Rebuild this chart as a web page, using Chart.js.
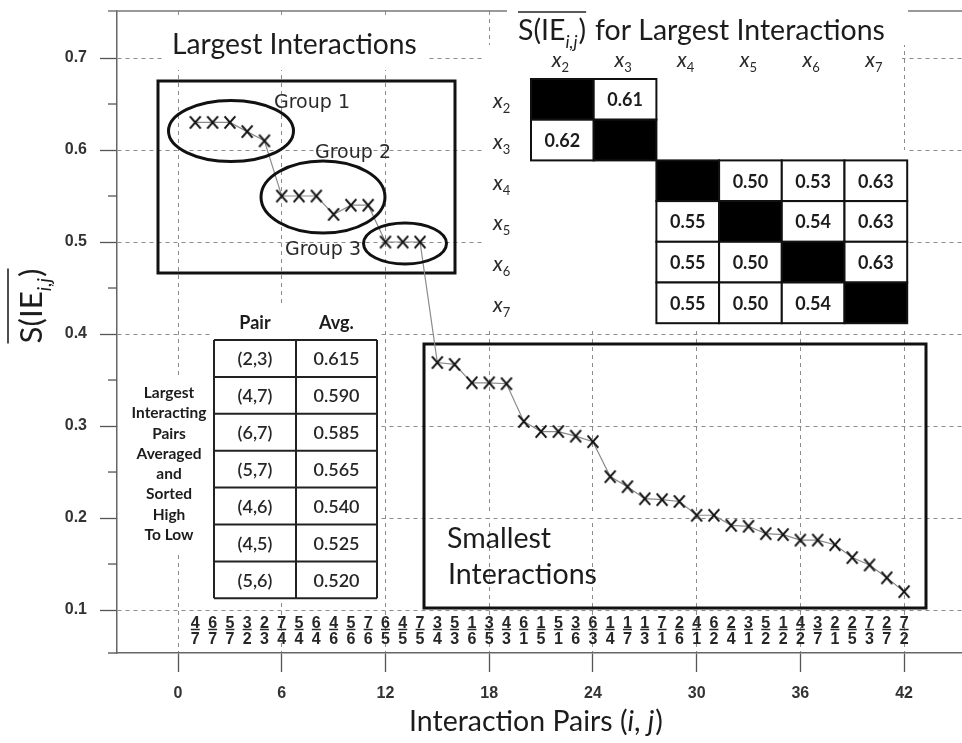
<!DOCTYPE html>
<html>
<head>
<meta charset="utf-8">
<script src="https://cdn.jsdelivr.net/npm/chart.js@4/dist/chart.umd.min.js"></script>
<style>
  html, body { margin: 0; padding: 0; background: #fff; }
  canvas { display: block; }
</style>
</head>
<body>
<canvas id="chart" width="962" height="743"></canvas>
<script>
// ---- data ----------------------------------------------------------------
// interaction pair (i over j) for each position on the x axis
const pairI = [4,6,5,3,2,7,5,6,4,5,7,6,4,7,3,5,1,3,4,6,1,5,3,6,1,1,1,7,2,4,6,2,3,5,1,4,3,2,2,7,2,7];
const pairJ = [7,7,7,2,3,4,4,4,6,6,6,5,5,5,4,3,6,5,3,1,5,1,6,3,4,7,3,1,6,1,2,4,1,2,2,2,7,1,5,3,7,2];

// mean sensitivity of each interaction, sorted high to low
const interactionValues = [
  0.63, 0.63, 0.63, 0.62, 0.61, 0.55, 0.55, 0.55, 0.53, 0.54, 0.54, 0.50, 0.50, 0.50,
  0.369, 0.367, 0.347, 0.347, 0.346, 0.305, 0.294, 0.294, 0.289, 0.283, 0.245, 0.234,
  0.221, 0.220, 0.218, 0.203, 0.203, 0.192, 0.191, 0.183, 0.182, 0.176, 0.176, 0.171,
  0.157, 0.149, 0.135, 0.120
];

const xTickValues = [0, 6, 12, 18, 24, 30, 36, 42];
const yTickValues = [0.1, 0.2, 0.3, 0.4, 0.5, 0.6, 0.7];
const yMinorTicks = [0.15, 0.25, 0.35, 0.45, 0.55, 0.65];

// S(IE_ij) for the largest interactions ('D' marks the diagonal)
const matrixVars = ['2', '3', '4', '5', '6', '7'];
const matrixCells = [
  ['D',  0.61, null, null, null, null],
  [0.62, 'D',  null, null, null, null],
  [null, null, 'D',  0.50, 0.53, 0.63],
  [null, null, 0.55, 'D',  0.54, 0.63],
  [null, null, 0.55, 0.50, 'D',  0.63],
  [null, null, 0.55, 0.50, 0.54, 'D']
];

// largest interacting pairs, averaged and sorted
const tablePairs = ['(2,3)', '(4,7)', '(6,7)', '(5,7)', '(4,6)', '(4,5)', '(5,6)'];
const tableAverages = ['0.615', '0.590', '0.585', '0.565', '0.540', '0.525', '0.520'];
const tableNote = ['Largest', 'Interacting', 'Pairs', 'Averaged', 'and', 'Sorted', 'High', 'To Low'];

// ---- drawing helpers -----------------------------------------------------
const CAL = 'Lato, "Open Sans", sans-serif';
const ARIAL = '"Liberation Sans", Arial, sans-serif';
const DEJAVU = '"DejaVu Sans", Verdana, sans-serif';
const INK = '#1c1c1c';

function fitSize(ctx, text, family, weight, style, width) {
  ctx.font = `${style} ${weight} 20px ${family}`;
  return 20 * width / ctx.measureText(text).width;
}

function line(ctx, x1, y1, x2, y2, color, w, dash) {
  ctx.save();
  ctx.strokeStyle = color; ctx.lineWidth = w;
  ctx.setLineDash(dash || []);
  ctx.beginPath(); ctx.moveTo(x1, y1); ctx.lineTo(x2, y2); ctx.stroke();
  ctx.restore();
}

// draws text runs one after another on a common baseline
function drawRuns(ctx, runs, x, y, align) {
  let total = 0;
  runs.forEach(r => { ctx.font = r.font; r.w = ctx.measureText(r.text).width; total += r.w + (r.gap || 0); });
  let cx = align === 'center' ? x - total / 2 : (align === 'right' ? x - total : x);
  const x0 = cx;
  ctx.textAlign = 'left';
  ctx.textBaseline = 'alphabetic';
  runs.forEach(r => {
    ctx.font = r.font;
    ctx.fillText(r.text, cx, y + (r.dy || 0));
    cx += r.w + (r.gap || 0);
  });
  return { x0, x1: cx };
}

// S(IE_ij) with an overline
function sieRuns(size) {
  return [
    { text: 'S(IE', font: `normal 400 ${size}px ${CAL}` },
    { text: 'i,j', font: `italic 400 ${size * 0.62}px ${CAL}`, dy: size * 0.28, gap: 1 },
    { text: ')', font: `normal 400 ${size}px ${CAL}` }
  ];
}

function varLabel(ctx, idx, x, y, align) {
  return drawRuns(ctx, [
    { text: 'x', font: `italic 400 21px ${CAL}` },
    { text: idx, font: `normal 400 13px ${CAL}`, dy: 5 }
  ], x, y, align);
}

// marker: a thin "X"
const xMark = document.createElement('canvas');
xMark.width = 14; xMark.height = 15;
(() => {
  const m = xMark.getContext('2d');
  m.strokeStyle = '#111'; m.lineWidth = 2;
  m.beginPath();
  m.moveTo(1.6, 1.4); m.lineTo(12.4, 13.6);
  m.moveTo(12.4, 1.4); m.lineTo(1.6, 13.6);
  m.stroke();
})();

const overlay = {
  id: 'overlay',
  beforeDatasetsDraw(chart) {
    const { ctx, chartArea: A, scales: { x, y } } = chart;
    ctx.save();

    // frame extensions and minor y ticks
    line(ctx, 108, A.top, A.right, A.top, '#777', 1.5);
    line(ctx, 108, A.bottom, A.left, A.bottom, '#666', 1.5);
    yMinorTicks.forEach(v => {
      const py = y.getPixelForValue(v);
      line(ctx, 108, py, A.left, py, '#555', 1.3);
    });

    // plain backgrounds behind labels
    ctx.fillStyle = '#fff';
    ctx.fillRect(162, 19, 266, 51);     // "Largest Interactions" caption
    ctx.fillRect(507, 0, 401, 45);      // matrix title
    ctx.fillRect(482, 45, 420, 106);    // matrix
    ctx.fillRect(482, 150, 426, 177);
    ctx.fillRect(118, 377, 94, 176);    // table note
    ctx.fillRect(212, 305, 166, 36);    // table header
    ctx.fillRect(426, 512, 186, 6);

    // ---- largest interactions panel
    ctx.strokeStyle = '#111'; ctx.lineWidth = 3;
    ctx.strokeRect(158, 81, 297, 192);
    ctx.fillStyle = INK;
    let s = fitSize(ctx, 'Largest Interactions', CAL, 400, 'normal', 245);
    ctx.font = `normal 400 ${s}px ${CAL}`;
    ctx.textAlign = 'left'; ctx.textBaseline = 'alphabetic';
    ctx.fillText('Largest Interactions', 172, 54);

    const gs = fitSize(ctx, 'Group 1', DEJAVU, 400, 'normal', 76);
    ctx.font = `normal 400 ${gs}px ${DEJAVU}`;
    ctx.fillStyle = '#2a2a2a';
    ctx.textBaseline = 'middle';
    ctx.fillText('Group 1', 274, 103);
    ctx.fillText('Group 2', 315, 153);
    ctx.fillText('Group 3', 285, 250);

    // ---- smallest interactions panel
    ctx.strokeStyle = '#111'; ctx.lineWidth = 3;
    ctx.strokeRect(424, 344, 502, 264);
    s = fitSize(ctx, 'Interactions', CAL, 400, 'normal', 149);
    ctx.font = `normal 400 ${s}px ${CAL}`;
    ctx.fillStyle = INK; ctx.textBaseline = 'alphabetic';
    ctx.fillText('Smallest', 447, 548);
    ctx.fillText('Interactions', 448, 584);

    // ---- matrix
    const mL = 531, mT = 79, cw = 62.7, rh = 40.7;
    s = fitSize(ctx, 'for Largest Interactions', CAL, 400, 'normal', 290);
    ctx.fillStyle = INK;
    const t = drawRuns(ctx, sieRuns(s), 518, 40, 'left');
    line(ctx, t.x0, 12, t.x1, 12, '#222', 1.6);
    ctx.font = `normal 400 ${s}px ${CAL}`;
    ctx.fillText('for Largest Interactions', 595, 40);

    ctx.fillStyle = '#2a2a2a';
    matrixVars.forEach((v, i) => {
      varLabel(ctx, v, mL + (i + 0.5) * cw - 2, 67, 'center');
      varLabel(ctx, v, 493, mT + (i + 0.5) * rh + 9, 'left');
    });
    ctx.font = `normal 700 18px ${CAL}`;
    ctx.textAlign = 'center'; ctx.textBaseline = 'middle';
    matrixCells.forEach((row, r) => row.forEach((v, c) => {
      if (v === null) return;
      const x0 = mL + c * cw, y0 = mT + r * rh;
      ctx.fillStyle = v === 'D' ? '#000' : '#fff';
      ctx.fillRect(x0, y0, cw, rh);
      if (v !== 'D') {
        ctx.fillStyle = INK;
        ctx.fillText(v.toFixed(2), x0 + cw / 2, y0 + rh / 2 + 1);
      }
      ctx.strokeStyle = '#111'; ctx.lineWidth = 2;
      ctx.strokeRect(x0, y0, cw, rh);
    }));

    // ---- averaged pairs table
    const tL = 214, tM = 296, tR = 377, tT = 340, tr = 36.9;
    ctx.fillStyle = '#fff';
    ctx.fillRect(tL, tT, tR - tL, tr * tablePairs.length);
    ctx.fillStyle = INK;
    ctx.font = `normal 700 18px ${CAL}`;
    ctx.textAlign = 'center'; ctx.textBaseline = 'middle';
    ctx.fillText('Pair', (tL + tM) / 2, 323);
    ctx.fillText('Avg.', (tM + tR) / 2, 323);
    const vs = fitSize(ctx, '0.615', CAL, 600, 'normal', 46);
    ctx.font = `normal 600 ${vs}px ${CAL}`;
    ctx.fillStyle = '#262626';
    tablePairs.forEach((p, i) => {
      const cy = tT + (i + 0.5) * tr + 1;
      ctx.fillText(p, (tL + tM) / 2, cy);
      ctx.fillText(tableAverages[i], (tM + tR) / 2, cy);
    });
    for (let i = 0; i <= tablePairs.length; i++) line(ctx, tL, tT + i * tr, tR, tT + i * tr, '#222', 2);
    [tL, tM, tR].forEach(xx => line(ctx, xx, tT, xx, tT + tr * tablePairs.length, '#222', 2));

    const ns = fitSize(ctx, 'Interacting', CAL, 700, 'normal', 75);
    ctx.font = `normal 700 ${ns}px ${CAL}`;
    ctx.fillStyle = INK;
    tableNote.forEach((w, i) => ctx.fillText(w, 169, 393 + i * 20.3));

    // ---- pair labels along the bottom
    ctx.font = `normal 700 16px ${ARIAL}`;
    ctx.fillStyle = '#262626';
    ctx.textAlign = 'center'; ctx.textBaseline = 'alphabetic';
    pairI.forEach((a, k) => {
      const px = x.getPixelForValue(k + 1);
      ctx.fillText(String(a), px, 627.5);
      line(ctx, px - 4.5, 629.5, px + 4.5, 629.5, '#262626', 1.5);
      ctx.fillText(String(pairJ[k]), px, 644);
    });

    // ---- axis titles
    const ts = s;
    ctx.fillStyle = INK;
    ctx.save();
    ctx.translate(31, 306);
    ctx.rotate(-Math.PI / 2);
    const ys = ts * 1.1;
    const yt = drawRuns(ctx, sieRuns(ys), 0, 11, 'center');
    line(ctx, yt.x0, -23, yt.x1, -23, '#222', 1.6);
    ctx.restore();

    drawRuns(ctx, [
      { text: 'Interaction Pairs (', font: `normal 400 ${ts}px ${CAL}` },
      { text: 'i', font: `italic 400 ${ts}px ${CAL}` },
      { text: ', ', font: `normal 400 ${ts}px ${CAL}` },
      { text: 'j', font: `italic 400 ${ts}px ${CAL}`, gap: 1 },
      { text: ')', font: `normal 400 ${ts}px ${CAL}` }
    ], 536, 731, 'center');

    ctx.restore();
  },
  afterDatasetsDraw(chart) {
    const ctx = chart.ctx;
    ctx.save();
    ctx.strokeStyle = '#111'; ctx.lineWidth = 3;
    [[231, 131, 62.5, 30.5], [323, 197, 62, 36], [405, 243.5, 41.5, 20.5]].forEach(([cx, cy, rx, ry]) => {
      ctx.beginPath(); ctx.ellipse(cx, cy, rx, ry, 0, 0, Math.PI * 2); ctx.stroke();
    });
    ctx.restore();
  }
};

const tickFont = { family: ARIAL, weight: 'bold', size: 16 };

new Chart(document.getElementById('chart'), {
  type: 'scatter',
  data: {
    datasets: [{
      data: interactionValues.map((v, i) => ({ x: i + 1, y: v })),
      showLine: true,
      borderColor: '#8a8a8a',
      borderWidth: 1.2,
      pointStyle: xMark,
      pointRadius: 7,
      pointHoverRadius: 7
    }]
  },
  options: {
    responsive: false,
    animation: false,
    devicePixelRatio: 1,
    events: [],
    layout: { autoPadding: false, padding: { top: 11, left: 0, right: 0, bottom: 0 } },
    plugins: { legend: { display: false }, tooltip: { enabled: false } },
    scales: {
      x: {
        type: 'linear', min: -3.53, max: 45.35,
        afterBuildTicks: s => { s.ticks = xTickValues.map(v => ({ value: v })); },
        afterFit: s => { s.height = 90; s.paddingLeft = 0; s.paddingRight = 0; },
        grid: { color: '#8c8c8c', lineWidth: 1, tickLength: 19, tickColor: '#555', tickWidth: 1.3 },
        border: { display: true, color: '#666', width: 1.5, dash: [4, 4] },
        ticks: { font: tickFont, color: '#333', padding: 12, maxRotation: 0, autoSkip: false }
      },
      y: {
        type: 'linear', min: 0.0533, max: 0.7511,
        afterBuildTicks: s => { s.ticks = yTickValues.map(v => ({ value: v })); },
        afterFit: s => { s.width = 117; s.paddingTop = 0; s.paddingBottom = 0; },
        grid: { color: '#8c8c8c', lineWidth: 1, tickLength: 17, tickColor: '#555', tickWidth: 1.3 },
        border: { display: true, color: '#666', width: 1.5, dash: [4, 4] },
        ticks: { font: tickFont, color: '#333', padding: 13, autoSkip: false, callback: v => v.toFixed(1) }
      }
    }
  },
  plugins: [overlay]
});
</script>
</body>
</html>
